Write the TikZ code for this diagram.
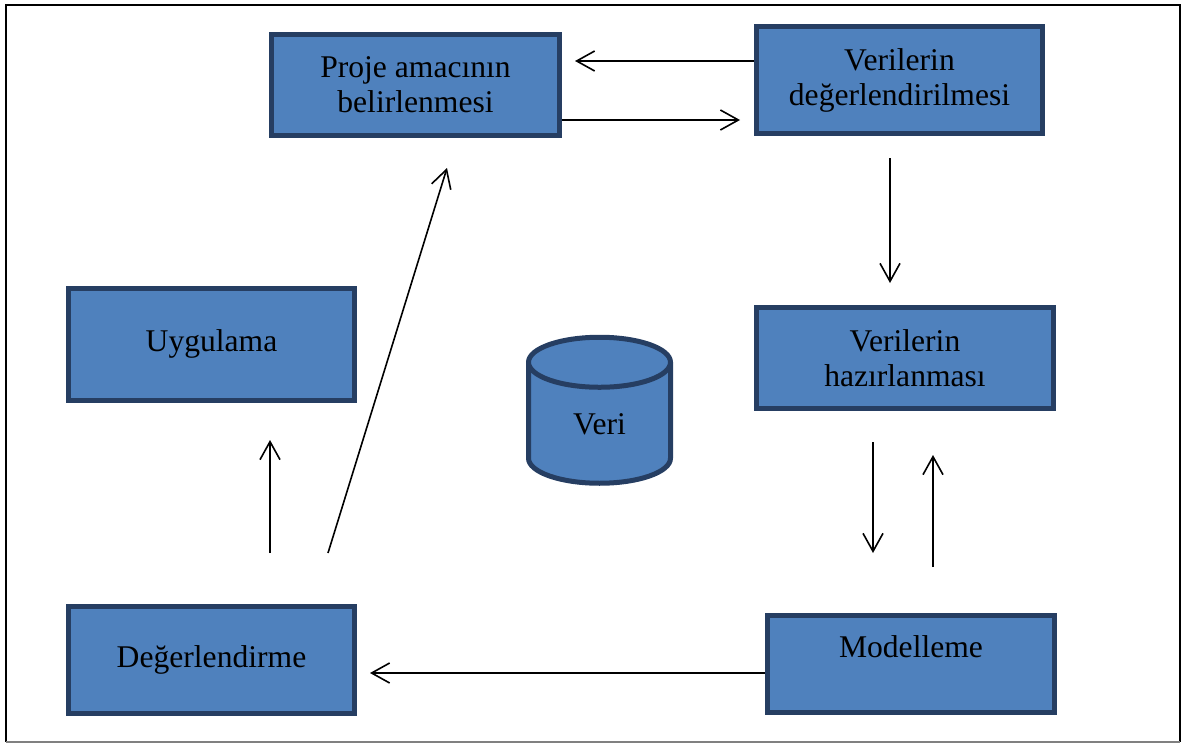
\documentclass[tikz,border=0pt]{standalone}
\usepackage{fontspec}
\setmainfont{Liberation Serif}
\definecolor{B}{RGB}{79,129,189}
\definecolor{D}{RGB}{38,62,98}
\usepackage{tikz}
\usetikzlibrary{arrows.meta}
\usetikzlibrary{shapes.geometric}
\tikzstyle{base}=[x=0.5pt, y=-0.5pt]
\tikzstyle{box}=[draw=D, fill=B, line width=2.5pt, align=center, inner sep=0pt, font=\fontsize{15.8}{17.5}\selectfont]
\tikzstyle{flow}=[line width=0.8pt, -{Straight Barb[length=9pt, width=10pt, line width=0.8pt]}]

\begin{document}
\begin{tikzpicture}[base]
    \path [use as bounding box] (0,0) rectangle (1183,744);
    \draw [line width=1.1pt] (6,742) -- (6,5) -- (1180,5) -- (1180,742);
    \draw [gray, line width=0.6pt] (6,742) -- (1180,742);
        \node [box, minimum width=144pt, minimum height=50.5pt] (proje) at (415.5,85) {Proje amac\i n\i n\\belirlenmesi};
        \node [box, minimum width=143pt, minimum height=53.5pt] (degerlendirilmesi) at (899.5,80) {Verilerin\\değerlendirilmesi};
        \node [box, minimum width=148.5pt, minimum height=50.5pt] (hazirlanmasi) at (905,358) {Verilerin\\haz\i rlanmas\i};
        \node [box, minimum width=143pt, minimum height=56pt] (uygulama) at (211.5,344) {Uygulama};
        \node [box, minimum width=143pt, minimum height=53.5pt] (degerlendirme) at (211.5,660) {Değerlendirme};
        \node [box, minimum width=143.5pt, minimum height=48.5pt, text depth=17.5pt] (modelleme) at (911,664) {Modelleme};
        \node [box, cylinder, shape border rotate=90, aspect=0.95, minimum width=71pt, minimum height=73pt] (veri) at (599.5,424) {Veri};
        \draw [flow] (degerlendirilmesi.west |- 0,61) -- (575,61);
        \draw [flow] (proje.east |- 0,120) -- (740,120);
        \draw [flow] (890,158) -- (890,283);
        \draw [flow] (873,442) -- (873,553);
        \draw [flow] (933,567) -- (933,455);
        \draw [flow] (modelleme.west |- 0,673) -- (370,673);
        \draw [flow] (270,553) -- (270,440);
        \draw [flow] (328,553) -- (447,168);
    \end{tikzpicture}
\end{document}
